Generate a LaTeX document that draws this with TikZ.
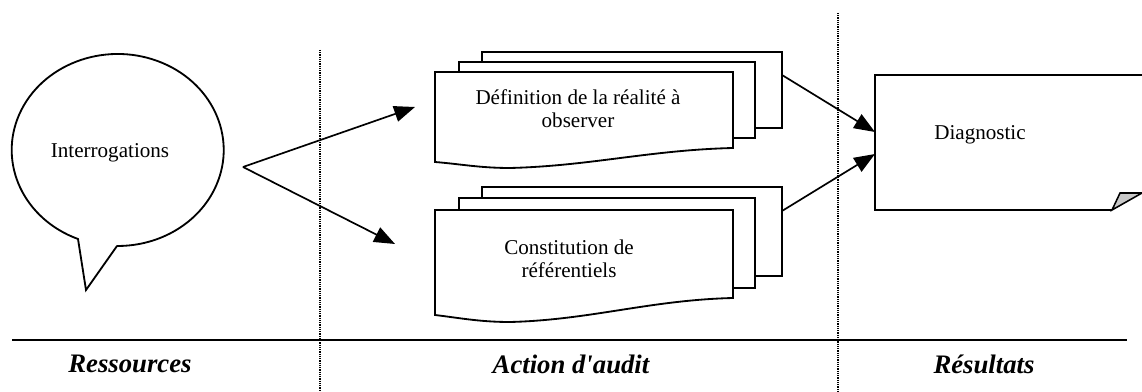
\documentclass[tikz,border=0pt]{standalone}
\usepackage{fontspec}
\setmainfont{Liberation Serif}
\usepackage{tikz}
\usetikzlibrary{arrows.meta, positioning}

\begin{document}
\begin{tikzpicture}[x=0.025cm, y=-0.025cm,
    sheet/.style={rectangle, draw, fill=white, line width=1.3pt, inner sep=0pt},
    txt/.style={align=center, font=\fontsize{15}{16.4}\selectfont},
    title/.style={font=\fontsize{19}{22}\selectfont\bfseries\itshape},
    link/.style={-{Triangle[length=0.52cm, width=0.4cm]}, line width=1.2pt},
    sep/.style={line width=0.8pt, dash pattern=on 0.8pt off 0.8pt}]
  % Colors
  \definecolor{foldcolor}{RGB}{200,200,200}
  \useasboundingbox (0,0) rectangle (1142,392);

  % Column separators and base line
  \draw[sep] (320,50) -- (320,392);
  \draw[sep] (838,13) -- (838,392);
  \draw[line width=1.3pt] (12,340) -- (1127,340);

  % Speech bubble
  \draw[line width=1.3pt, fill=white] (117,246) -- (86,290) -- (78,239)
    arc[start angle=112, end angle=450.5, x radius=106, y radius=96] -- cycle;
  \node[txt] (interro) at (110,153) {Interrogations};

  % Upper stack of documents
  \node[sheet, minimum width=7.5cm, minimum height=1.9cm] (definback) at (632,90) {};
  \node[sheet, minimum width=7.4cm, minimum height=1.9cm] (definmid) at (607,100) {};
  \draw[line width=1.3pt, fill=white] (435,72) -- (733,72) -- (733,148)
    .. controls (650,150) and (590,166) .. (510,168)
    .. controls (480,168) and (460,164) .. (435,162) -- cycle;
  \node[txt] (defin) at (578,108.5) {Définition de la réalité à\\observer};

  % Lower stack of documents
  \node[sheet, minimum width=7.5cm, minimum height=2.225cm] (constback) at (632,231.5) {};
  \node[sheet, minimum width=7.4cm, minimum height=2.25cm] (constmid) at (607,243) {};
  \draw[line width=1.3pt, fill=white] (435,210) -- (733,210) -- (733,298)
    .. controls (650,300) and (590,320) .. (510,322)
    .. controls (480,322) and (460,318) .. (435,315) -- cycle;
  \node[txt] (const) at (569,258.5) {Constitution de\\référentiels};

  % Result document
  \draw[line width=1.3pt] (1142,75) -- (875,75) -- (875,210) -- (1112,210);
  \draw[line width=1.1pt, fill=foldcolor] (1112,210) -- (1120,193) -- (1142,193) -- cycle;
  \node[txt] (diag) at (980,135) {Diagnostic};

  % Connector end points
  \coordinate (split) at (243,167);
  \coordinate (defin in) at (415,107);
  \coordinate (const in) at (395,244);
  \coordinate (defin out) at (782,75);
  \coordinate (const out) at (782,211);
  \coordinate (diag in1) at (875,132);
  \coordinate (diag in2) at (875,154);

  % Arrows
  \draw[link] (split) -- (defin in);
  \draw[link] (split) -- (const in);
  \draw[link] (defin out) -- (diag in1);
  \draw[link] (const out) -- (diag in2);

  % Column titles
  \node[title] (ress) at (130,364) {Ressources};
  \node[title] (action) at (571,364) {Action d\textquotesingle audit};
  \node[title] (result) at (984,364) {Résultats};
\end{tikzpicture}
\end{document}
